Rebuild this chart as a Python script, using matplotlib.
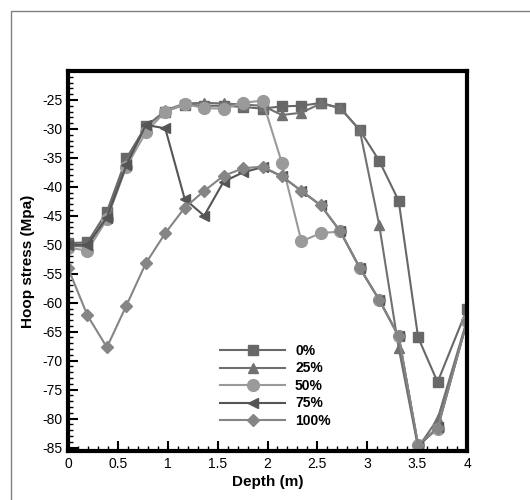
import numpy as np
import matplotlib
matplotlib.use("Agg")
import matplotlib.pyplot as plt
from matplotlib.patches import Rectangle
from matplotlib.ticker import MultipleLocator, FuncFormatter

plt.rcParams['font.family'] = ['Liberation Sans', 'DejaVu Sans']
plt.rcParams['axes.unicode_minus'] = False

# ---------------- data ----------------
depth = [0, 0.195, 0.39, 0.585, 0.78, 0.975, 1.17, 1.365, 1.56, 1.755, 1.95,
         2.145, 2.34, 2.535, 2.73, 2.925, 3.12, 3.315, 3.51, 3.705, 4.0]

stress_0 = [-49.7, -49.6, -44.3, -35.1, -29.5, -27.0, -25.8, -26.0, -26.0, -26.2, -26.5,
            -26.1, -26.0, -25.5, -26.4, -30.2, -35.5, -42.4, -66.0, -73.7, -61.1]
stress_25 = [-50.2, -50.3, -45.0, -35.8, -29.7, -26.8, -25.6, -25.5, -25.6, -25.8, -26.0,
             -27.6, -27.2, -25.6, -26.4, -30.2, -46.6, -67.8, -85.0, -80.1, -63.0]
stress_50 = [-50.5, -51.0, -45.6, -36.5, -30.6, -27.0, -25.7, -26.4, -26.5, -25.5, -25.1,
             -35.9, -49.4, -48.0, -47.7, -54.0, -59.5, -65.8, -84.6, -81.8, -63.2]
stress_75 = [-50.0, -50.0, -45.3, -36.3, -29.3, -29.9, -42.1, -45.0, -39.1, -37.5, -36.6,
             -38.2, -40.7, -43.2, -47.7, -54.0, -59.5, -65.8, -84.8, -81.5, -63.2]
stress_100 = [-54.0, -62.2, -67.7, -60.5, -53.2, -48.0, -43.6, -40.7, -38.1, -36.8, -36.5,
              -38.2, -40.7, -43.2, -47.7, -54.0, -59.5, -65.8, -84.5, -81.6, -63.2]

labels = ["0%", "25%", "50%", "75%", "100%"]
# --------------------------------------

series = [stress_0, stress_25, stress_50, stress_75, stress_100]
markers = ["s", "^", "o", "<", "D"]
sizes = [6.5, 7, 8.5, 7, 6]
colors = ["#686868", "#717171", "#9a9a9a", "#555555", "#858585"]

fig = plt.figure(figsize=(5.3, 5.0), dpi=100)
ax = fig.add_axes([68 / 530, 1 - 451 / 500, 399 / 530, 380 / 500])

# outer grey frame
fig.patches.append(Rectangle((11 / 530, -0.1), 1.2, 1 - 11 / 500 + 0.1,
                             transform=fig.transFigure, fill=False,
                             edgecolor="#808080", linewidth=1.0))

for ys, m, ms, c, lab in zip(series, markers, sizes, colors, labels):
    ax.plot(depth, ys, marker=m, markersize=ms, color=c, markerfacecolor=c,
            markeredgecolor=c, linewidth=1.5, label=lab)

ax.set_xlim(0, 4)
ax.set_ylim(-85.6, -20)
ax.xaxis.set_major_locator(MultipleLocator(0.5))
ax.xaxis.set_minor_locator(MultipleLocator(0.1))
ax.yaxis.set_minor_locator(MultipleLocator(1))
ax.set_yticks(np.arange(-85, -24, 5))
fmt = FuncFormatter(lambda v, p: "%g" % v)
ax.xaxis.set_major_formatter(fmt)
ax.yaxis.set_major_formatter(fmt)

ax.tick_params(which="major", direction="in", length=7, width=1.5,
               labelsize=10, pad=4, top=False, right=False)
ax.tick_params(which="minor", direction="in", length=3.5, width=1,
               top=False, right=False)
for s in ax.spines.values():
    s.set_linewidth(3)

ax.set_xlabel("Depth (m)", fontsize=11, fontweight="bold", labelpad=3)
ax.set_ylabel("Hoop stress (Mpa)", fontsize=11, fontweight="bold", labelpad=5)

leg = ax.legend(loc="upper left", bbox_to_anchor=(220 / 530, 1 - 344 / 500),
                bbox_transform=fig.transFigure, frameon=False, borderpad=0,
                borderaxespad=0, handlelength=4.7, handletextpad=0.7,
                labelspacing=0.25, prop={"weight": "bold", "size": 10})

fig.savefig("out.png", dpi=100)
